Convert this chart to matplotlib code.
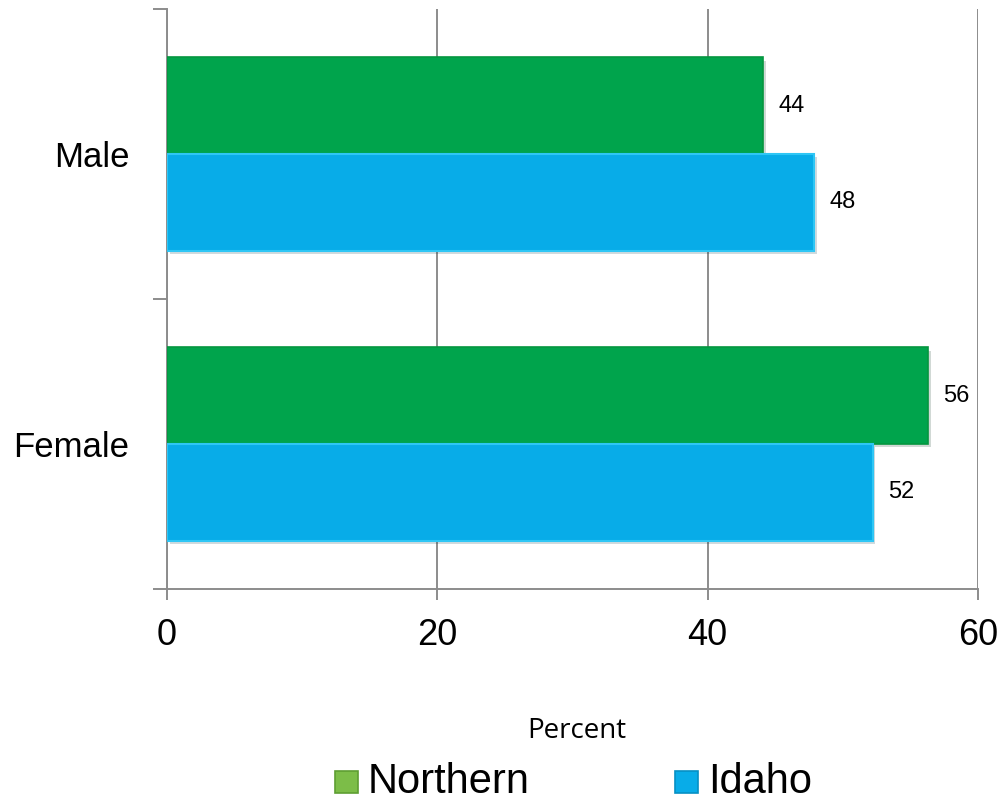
import matplotlib
matplotlib.use("Agg")
import matplotlib.pyplot as plt
import matplotlib.patheffects as pe
from matplotlib.patches import Rectangle
import numpy as np

# ---- data ----
categories = ["Female", "Male"]          # bottom to top
series_names = ["Northern", "Idaho"]
northern = [56.3, 44.1]
idaho = [52.2, 47.9]
x_ticks = [0, 20, 40, 60]
x_label = "Percent"

# ---- style ----
GREEN = "#00A44C"
GREEN_EDGE = "#05963F"
BLUE = "#08ACE8"
BLUE_EDGE = "#2EC6F5"
LEG_GREEN = "#7CBD48"
GRID = "#8C8C8C"

W, H = 1003, 800
fig = plt.figure(figsize=(W / 100, H / 100), dpi=100)
ax = fig.add_axes([167 / W, 1 - 589 / H, (978 - 167) / W, (589 - 9) / H])

y = np.arange(len(categories)) + 0.5
h = 0.334
shadow = [pe.SimplePatchShadow(offset=(2, -2.5), alpha=0.18), pe.Normal()]

b1 = ax.barh(y + h / 2, northern, height=h, color=GREEN, edgecolor=GREEN_EDGE,
             linewidth=1.2, zorder=3)
b2 = ax.barh(y - h / 2, idaho, height=h, color=BLUE, edgecolor=BLUE_EDGE,
             linewidth=1.5, zorder=3)
for bars in (b1, b2):
    for p in bars:
        p.set_path_effects(shadow)

font = "Liberation Sans"
for bars, vals in ((b1, northern), (b2, idaho)):
    for p, v in zip(bars, vals):
        ax.annotate(f"{v:.0f}", (v, p.get_y() + p.get_height() / 2),
                    xytext=(11, 0), textcoords="offset points",
                    va="center", ha="left", fontsize=17, family=font, color="black")

ax.set_xlim(0, 60)
ax.set_ylim(0, 2)
ax.set_xticks(x_ticks)
ax.set_xticklabels([str(t) for t in x_ticks], fontsize=26, family=font)
ax.set_yticks([0, 1, 2])
ax.set_yticklabels([])
ax.set_yticks(y, minor=True)
ax.set_yticklabels(categories, minor=True, fontsize=25, family=font)

ax.tick_params(axis="x", which="major", length=8, width=1.4, color=GRID, pad=13)
ax.tick_params(axis="y", which="major", length=10, width=1.4, color=GRID)
ax.tick_params(axis="y", which="minor", length=0, pad=27)

ax.grid(axis="x", color=GRID, linewidth=1.4, zorder=0)
ax.set_axisbelow(True)
for s in ("top", "right"):
    ax.spines[s].set_visible(False)
for s in ("left", "bottom"):
    ax.spines[s].set_color(GRID)
    ax.spines[s].set_linewidth(1.4)

# axis title
fig.text(577 / W, 1 - 738 / H, x_label, ha="center", va="baseline",
         fontsize=20, family="Open Sans", fontweight="normal", color="black")

# legend (manual)
leg_colors = [LEG_GREEN, BLUE]
leg_edges = ["#5E9E32", "#0690C4"]
leg_x = [335, 675]
for name, c, ec, lx in zip(series_names, leg_colors, leg_edges, leg_x):
    r = Rectangle((lx / W, 1 - 793 / H), 23 / W, 22 / H, transform=fig.transFigure,
                  facecolor=c, edgecolor=ec, linewidth=1.2)
    fig.patches.append(r)
    fig.text((lx + 33) / W, 1 - 793 / H, name, ha="left", va="baseline",
             fontsize=30, family=font, color="black")

fig.savefig("out.png", dpi=100)
